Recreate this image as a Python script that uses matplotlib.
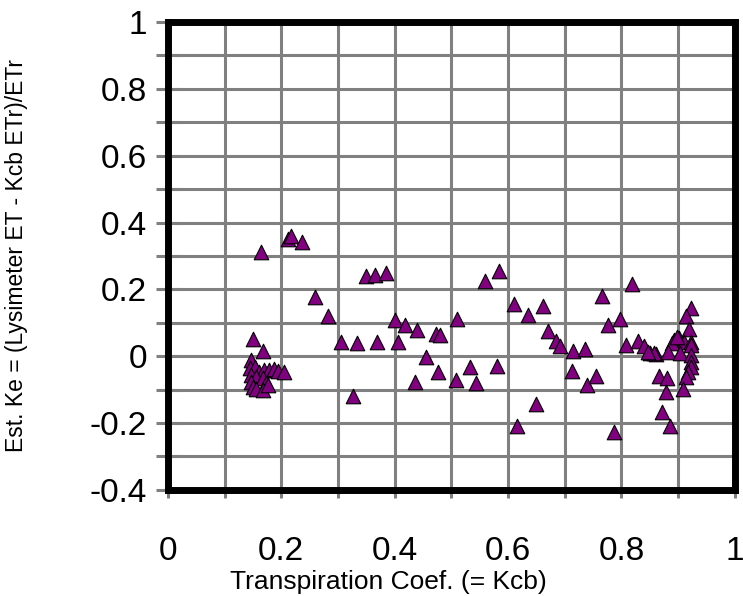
import numpy as np
import matplotlib
matplotlib.use("Agg")
import matplotlib.pyplot as plt
from matplotlib.ticker import MultipleLocator, FuncFormatter

plt.rcParams['font.family'] = ['Liberation Sans', 'DejaVu Sans']

# Kcb (x) and estimated Ke (y)
kcb = [0.165, 0.211, 0.217, 0.237, 0.349, 0.366, 0.384, 0.260, 0.282,
       0.150, 0.167, 0.305, 0.334, 0.369, 0.405, 0.401, 0.418, 0.439, 0.473,
       0.455, 0.476, 0.435, 0.327,
       0.147, 0.144, 0.153, 0.161, 0.170, 0.179, 0.188, 0.195, 0.205, 0.147,
       0.156, 0.167, 0.173, 0.147, 0.150, 0.156, 0.167, 0.176,
       0.559, 0.584, 0.611, 0.636, 0.662, 0.510, 0.480, 0.508, 0.533, 0.544,
       0.580, 0.671, 0.685, 0.692, 0.714, 0.735, 0.713, 0.740, 0.755, 0.765,
       0.777, 0.798, 0.818, 0.808, 0.830, 0.839, 0.851, 0.861, 0.867,
       0.615, 0.650, 0.787, 0.872, 0.886,
       0.922, 0.914, 0.920, 0.892, 0.901, 0.910, 0.922, 0.922, 0.889, 0.857,
       0.883, 0.904, 0.922, 0.922, 0.922, 0.918, 0.913, 0.881, 0.878, 0.909,
       0.846, 0.898]
ke = [0.311, 0.350, 0.360, 0.343, 0.241, 0.243, 0.248, 0.178, 0.121,
      0.052, 0.017, 0.042, 0.039, 0.044, 0.044, 0.107, 0.093, 0.079, 0.067,
      -0.003, -0.046, -0.076, -0.119,
      -0.011, -0.036, -0.031, -0.046, -0.041, -0.041, -0.039, -0.043, -0.046, -0.056,
      -0.061, -0.066, -0.081, -0.076, -0.091, -0.099, -0.101, -0.086,
      0.226, 0.254, 0.156, 0.124, 0.150, 0.112, 0.064, -0.071, -0.031, -0.079,
      -0.028, 0.077, 0.047, 0.032, 0.017, 0.022, -0.045, -0.086, -0.059, 0.181,
      0.092, 0.112, 0.216, 0.033, 0.045, 0.032, 0.011, 0.007, -0.058,
      -0.208, -0.143, -0.227, -0.168, -0.208,
      0.144, 0.121, 0.081, 0.049, 0.054, 0.044, 0.044, 0.034, 0.039, 0.009,
      0.014, 0.009, 0.004, -0.016, -0.031, -0.046, -0.063, -0.066, -0.106, -0.099,
      0.014, 0.057]


def fmt(v, pos):
    s = '%.1f' % v
    if s in ('0.0', '-0.0'):
        return '0'
    if s == '1.0':
        return '1'
    return s


fig = plt.figure(figsize=(7.43, 5.96), dpi=100)
ax = fig.add_axes([0.226, 0.178, 0.763, 0.785])

ax.scatter(kcb, ke, marker='^', s=110, c='#800080', edgecolors='black',
           linewidths=0.8, zorder=3, clip_on=False)

ax.set_xlim(0, 1)
ax.set_ylim(-0.4, 1)
ax.xaxis.set_major_locator(MultipleLocator(0.2))
ax.xaxis.set_minor_locator(MultipleLocator(0.1))
ax.yaxis.set_major_locator(MultipleLocator(0.2))
ax.yaxis.set_minor_locator(MultipleLocator(0.1))
ax.xaxis.set_major_formatter(FuncFormatter(fmt))
ax.yaxis.set_major_formatter(FuncFormatter(fmt))

ax.grid(True, which='both', color='#808080', linewidth=2.2, zorder=1)
ax.set_axisbelow(True)
for s in ax.spines.values():
    s.set_linewidth(5)
    s.set_color('black')
    s.set_zorder(2)

ax.tick_params(axis='x', which='both', direction='out', length=6, width=2.2,
               color='#808080', labelsize=24, pad=27)
ax.tick_params(axis='y', which='both', direction='inout', length=18, width=2.2,
               color='#808080', labelsize=24, pad=6)

ax.set_xlabel('Transpiration Coef. (= Kcb)', fontsize=19)
ax.xaxis.set_label_coords(0.389, -0.171)
ax.set_ylabel('Est. Ke = (Lysimeter ET - Kcb ETr)/ETr', fontsize=16.5)
ax.yaxis.set_label_coords(-0.247, 0.5)

fig.savefig('out.png', dpi=100)
